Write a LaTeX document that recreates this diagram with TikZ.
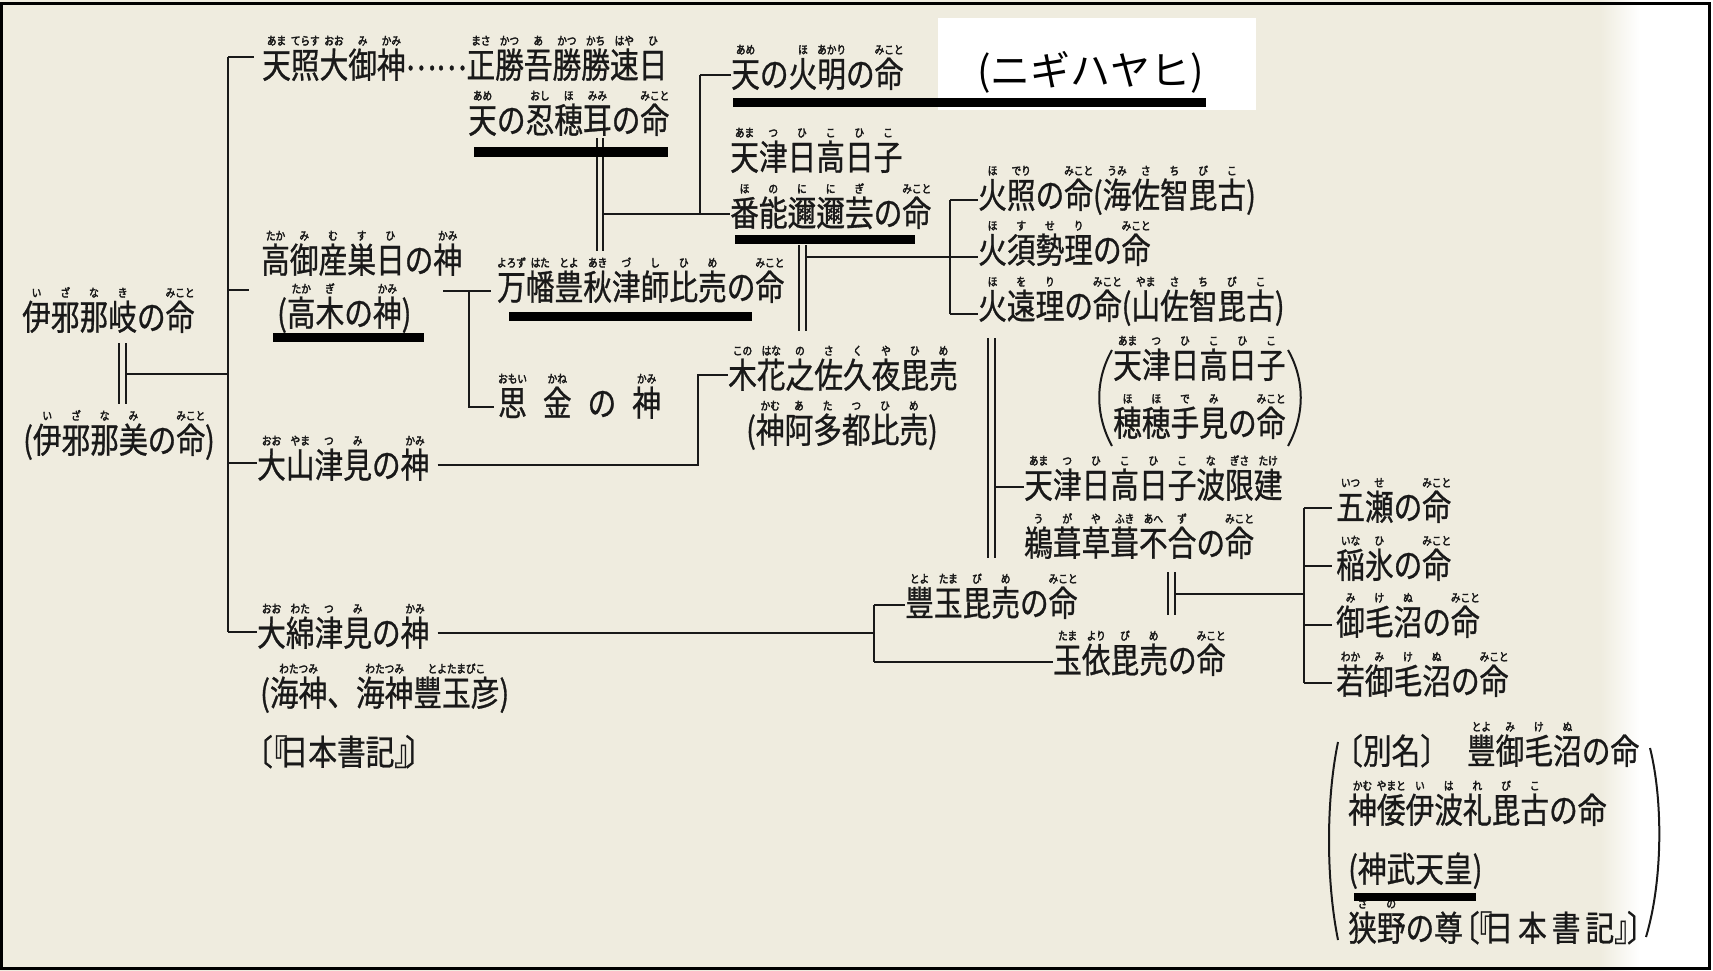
\documentclass[tikz,border=0pt]{standalone}
\usepackage{fontspec}
\newfontfamily\jp{Noto Sans CJK JP}[FakeStretch=0.82,FakeBold=0.8]
\newfontfamily\jprb{Noto Sans CJK JP}[FakeStretch=0.84,FakeBold=3]
\newfontfamily\jpk{Noto Sans CJK JP}
\definecolor{paper}{RGB}{239,236,223}
\definecolor{ink}{RGB}{25,25,25}
\newcommand\rb[2]{\leavevmode\setbox0\hbox{#1}\hbox to\wd0{\hss\raisebox{33pt}[0pt][0pt]{\jprb\fontsize{11.5}{11.5}\selectfont#2}\hss}\kern-\wd0\box0}
\newcommand\dotsmid{\raisebox{8pt}{…}\raisebox{8pt}{…}}
\tikzset{
  nm/.style={anchor=base west,inner sep=0pt,text height=30pt,text depth=4pt,font={\jp\fontsize{35}{37}\selectfont},text=ink},
  ln/.style={line width=2.2pt,draw=ink},
  bigparen/.style={line width=2pt,draw=ink},
  bar/.style={fill=black}
}
\begin{document}
\begin{tikzpicture}[x=1pt,y=-1pt]
\useasboundingbox (0,0) rectangle (1713,971);
\fill[paper] (0,0) rectangle (1640,971);
\shade[left color=paper,right color=white] (1600,0) rectangle (1640,971);
\fill[white] (1640,0) rectangle (1713,971);
\fill[white] (938,18) rectangle (1256,110);
%
% ---- nodes ----
\node[nm] (n1) at (262,78) {\rb{天}{あま}\rb{照}{てらす}\rb{大}{おお}\rb{御}{み}\rb{神}{かみ}\dotsmid\rb{正}{まさ}\rb{勝}{かつ}\rb{吾}{あ}\rb{勝}{かつ}\rb{勝}{かち}\rb{速}{はや}\rb{日}{ひ}};
\node[nm] (n2) at (468,133) {\rb{天}{あめ}の\rb{忍}{おし}\rb{穂}{ほ}\rb{耳}{みみ}の\rb{命}{みこと}};
\node[nm] (n3) at (261,273) {\rb{高}{たか}\rb{御}{み}\rb{産}{む}\rb{巣}{す}\rb{日}{ひ}の\rb{神}{かみ}};
\node[nm] (n4) at (277,326) {(\rb{高}{たか}\rb{木}{ぎ}の\rb{神}{かみ})};
\node[nm] (n5) at (22,330) {\rb{伊}{い}\rb{邪}{ざ}\rb{那}{な}\rb{岐}{き}の\rb{命}{みこと}};
\node[nm] (n6) at (23,453) {(\rb{伊}{い}\rb{邪}{ざ}\rb{那}{な}\rb{美}{み}の\rb{命}{みこと})};
\node[nm] (n7) at (257,478) {\rb{大}{おお}\rb{山}{やま}\rb{津}{つ}\rb{見}{み}の\rb{神}{かみ}};
\node[nm] (n8) at (257,646) {\rb{大}{おお}\rb{綿}{わた}\rb{津}{つ}\rb{見}{み}の\rb{神}{かみ}};
\node[nm] (n9) at (260,706) {(\rb{海神}{わたつみ}、\rb{海神}{わたつみ}\rb{豐玉彦}{とよたまびこ})};
\node[nm] (n10) at (244,765) {〔\kern-14pt『\kern-8pt日本書記』\kern-18pt〕};
\node[nm] (n11) at (497,300) {\rb{万}{よろず}\rb{幡}{はた}\rb{豊}{とよ}\rb{秋}{あき}\rb{津}{づ}\rb{師}{し}\rb{比}{ひ}\rb{売}{め}の\rb{命}{みこと}};
\node[nm] (n12) at (498,416) {\rb{思}{おもい}\kern16pt\rb{金}{かね}\kern16pt\relax の\kern16pt\rb{神}{かみ}};
\node[nm] (n13) at (731,87) {\rb{天}{あめ}の\rb{火}{ほ}\rb{明}{あかり}の\rb{命}{みこと}};
\node[nm] (n14) at (730,170) {\rb{天}{あま}\rb{津}{つ}\rb{日}{ひ}\rb{高}{こ}\rb{日}{ひ}\rb{子}{こ}};
\node[nm] (n15) at (730,226) {\rb{番}{ほ}\rb{能}{の}\rb{邇}{に}\rb{邇}{に}\rb{芸}{ぎ}の\rb{命}{みこと}};
\node[nm] (n16) at (978,208) {\rb{火}{ほ}\rb{照}{でり}の\rb{命}{みこと}(\rb{海}{うみ}\rb{佐}{さ}\rb{智}{ち}\rb{毘}{び}\rb{古}{こ})};
\node[nm] (n17) at (978,263) {\rb{火}{ほ}\rb{須}{す}\rb{勢}{せ}\rb{理}{り}の\rb{命}{みこと}};
\node[nm] (n18) at (978,319) {\rb{火}{ほ}\rb{遠}{を}\rb{理}{り}の\rb{命}{みこと}(\rb{山}{やま}\rb{佐}{さ}\rb{智}{ち}\rb{毘}{び}\rb{古}{こ})};
\node[nm] (n19) at (728,388) {\rb{木}{この}\rb{花}{はな}\rb{之}{の}\rb{佐}{さ}\rb{久}{く}\rb{夜}{や}\rb{毘}{ひ}\rb{売}{め}};
\node[nm] (n20) at (746,443) {(\rb{神}{かむ}\rb{阿}{あ}\rb{多}{た}\rb{都}{つ}\rb{比}{ひ}\rb{売}{め})};
\node[nm] (n21) at (1113,378) {\rb{天}{あま}\rb{津}{つ}\rb{日}{ひ}\rb{高}{こ}\rb{日}{ひ}\rb{子}{こ}};
\node[nm] (n21b) at (1113,436) {\rb{穂}{ほ}\rb{穂}{ほ}\rb{手}{で}\rb{見}{み}の\rb{命}{みこと}};
\node[nm] (n22) at (1024,498) {\rb{天}{あま}\rb{津}{つ}\rb{日}{ひ}\rb{高}{こ}\rb{日}{ひ}\rb{子}{こ}\rb{波}{な}\rb{限}{ぎさ}\rb{建}{たけ}};
\node[nm] (n23) at (1024,556) {\rb{鵜}{う}\rb{葺}{が}\rb{草}{や}\rb{葺}{ふき}\rb{不}{あへ}\rb{合}{ず}の\rb{命}{みこと}};
\node[nm] (n24) at (905,616) {\rb{豐}{とよ}\rb{玉}{たま}\rb{毘}{び}\rb{売}{め}の\rb{命}{みこと}};
\node[nm] (n25) at (1053,673) {\rb{玉}{たま}\rb{依}{より}\rb{毘}{び}\rb{売}{め}の\rb{命}{みこと}};
\node[nm] (n26) at (1336,520) {\rb{五}{いつ}\rb{瀬}{せ}の\rb{命}{みこと}};
\node[nm] (n27) at (1336,578) {\rb{稲}{いな}\rb{氷}{ひ}の\rb{命}{みこと}};
\node[nm] (n28) at (1336,635) {\rb{御}{み}\rb{毛}{け}\rb{沼}{ぬ}の\rb{命}{みこと}};
\node[nm] (n29) at (1336,694) {\rb{若}{わか}\rb{御}{み}\rb{毛}{け}\rb{沼}{ぬ}の\rb{命}{みこと}};
\node[nm] (n30) at (1334,764) {〔別名〕\kern18pt\rb{豐}{とよ}\rb{御}{み}\rb{毛}{け}\rb{沼}{ぬ}の命};
\node[nm] (n31) at (1348,823) {\rb{神}{かむ}\rb{倭}{やまと}\rb{伊}{い}\rb{波}{は}\rb{礼}{れ}\rb{毘}{び}\rb{古}{こ}の命};
\node[nm] (n32) at (1348,882) {(神武天皇)};
\node[nm] (n33) at (1348,941) {\rb{狭}{さ}\rb{野}{の}の尊\kern-12pt〔\kern-16pt『\kern-8pt日\kern5pt本\kern5pt書\kern5pt記』\kern-16pt〕};
\node[anchor=base west,inner sep=0pt,font={\jpk\fontsize{40}{42}\selectfont},text=black] (nh) at (977,86) {(ニギハヤヒ)};
%
% ---- connectors ----
\coordinate (sp0) at (228,57);
\coordinate (sp1) at (228,290);
\coordinate (sp2) at (228,374);
\coordinate (sp3) at (228,463);
\coordinate (sp4) at (228,632);
\coordinate (g1) at (249,290);
\draw[ln] (sp0) -- (sp4);
\draw[ln] (sp0) -- ([xshift=-8pt]n1.west |- sp0);
\draw[ln] (sp1) -- (g1);
\draw[ln] (sp3) -- (n7.west |- sp3);
\draw[ln] (sp4) -- (n8.west |- sp4);
% Izanagi = Izanami
\coordinate (iz1) at (119,343);
\coordinate (iz2) at (126,343);
\draw[ln] (iz1) -- ++(0,61) (iz2) -- ++(0,61);
\draw[ln] (iz2 |- sp2) -- (sp2);
% Takamimusubi group
\coordinate (tk0) at (443,291);
\coordinate (tk1) at (469,291);
\coordinate (tk2) at (469,407);
\draw[ln] (tk0) -- ([xshift=-6pt]n11.west |- tk0);
\draw[ln] (tk1) -- (tk2) -- ([xshift=-4pt]n12.west |- tk2);
% Oshihomimi = Yorozuhata
\coordinate (os1) at (597,138);
\coordinate (os2) at (603,138);
\draw[ln] (os1) -- ++(0,113) (os2) -- ++(0,113);
\coordinate (hb0) at (700,75);
\coordinate (hb1) at (700,214);
\draw[ln] (os2 |- hb1) -- (n15.west |- hb1);
\draw[ln] (hb0) -- (hb1);
\draw[ln] (hb0) -- (n13.west |- hb0);
% Ninigi = Konohana
\coordinate (nk1) at (799,245);
\coordinate (nk2) at (806,245);
\draw[ln] (nk1) -- ++(0,86) (nk2) -- ++(0,86);
\coordinate (ho0) at (950,200);
\coordinate (ho1) at (950,257);
\coordinate (ho2) at (950,314);
\draw[ln] (nk2 |- ho1) -- (n17.west |- ho1);
\draw[ln] (ho0) -- (ho2);
\draw[ln] (ho0) -- (n16.west |- ho0);
\draw[ln] (ho2) -- (n18.west |- ho2);
% Ooyamatsumi -> Konohana
\coordinate (oy2) at (698,375);
\draw[ln] ([xshift=8pt]n7.east) -| (oy2) -- (n19.west |- oy2);
% Hoori = Toyotama
\coordinate (hr1) at (988,338);
\coordinate (hr2) at (995,338);
\coordinate (hr3) at (995,487);
\draw[ln] (hr1) -- ++(0,220) (hr2) -- ++(0,220);
\draw[ln] (hr3) -- (n22.west |- hr3);
% Oowatatsumi -> Toyotama / Tamayori
\coordinate (ow1) at (874,605);
\coordinate (ow2) at (874,662);
\draw[ln] ([xshift=8pt]n8.east) -- (n8.east -| ow1);
\draw[ln] (ow1) -- (ow2);
\draw[ln] (ow1) -- (n24.west |- ow1);
\draw[ln] (ow2) -- (n25.west |- ow2);
% Ugaya = Tamayori
\coordinate (ug1) at (1168,572);
\coordinate (ug2) at (1175,572);
\draw[ln] (ug1) -- ++(0,43) (ug2) -- ++(0,43);
\coordinate (us0) at (1304,508);
\coordinate (us1) at (1304,566);
\coordinate (usm) at (1304,594);
\coordinate (us2) at (1304,625);
\coordinate (us3) at (1304,683);
\draw[ln] (ug2 |- usm) -- (usm);
\draw[ln] (us0) -- (us3);
\draw[ln] (us0) -- ([xshift=-4pt]n26.west |- us0);
\draw[ln] (us1) -- ([xshift=-4pt]n27.west |- us1);
\draw[ln] (us2) -- ([xshift=-4pt]n28.west |- us2);
\draw[ln] (us3) -- ([xshift=-4pt]n29.west |- us3);
% big parentheses
\draw[bigparen] (1112,350) .. controls (1095,380) and (1095,415) .. (1112,446);
\draw[bigparen] (1288,350) .. controls (1305,380) and (1305,415) .. (1288,446);
\draw[bigparen] (1338,742) .. controls (1326,800) and (1326,880) .. (1338,940);
\draw[bigparen] (1650,748) .. controls (1663,800) and (1663,880) .. (1646,937);
%
% ---- thick marker bars ----
\fill[bar] (474,147) rectangle (668,157);
\fill[bar] (273,333) rectangle (424,342);
\fill[bar] (509,312) rectangle (752,321);
\fill[bar] (733,98) rectangle (1206,107);
\fill[bar] (735,235) rectangle (915,244);
\fill[bar] (1354,893) rectangle (1476,901);
%
% ---- frame ----
\draw[line width=3pt,black] (1.5,4) rectangle (1709.5,968);
\end{tikzpicture}
\end{document}
